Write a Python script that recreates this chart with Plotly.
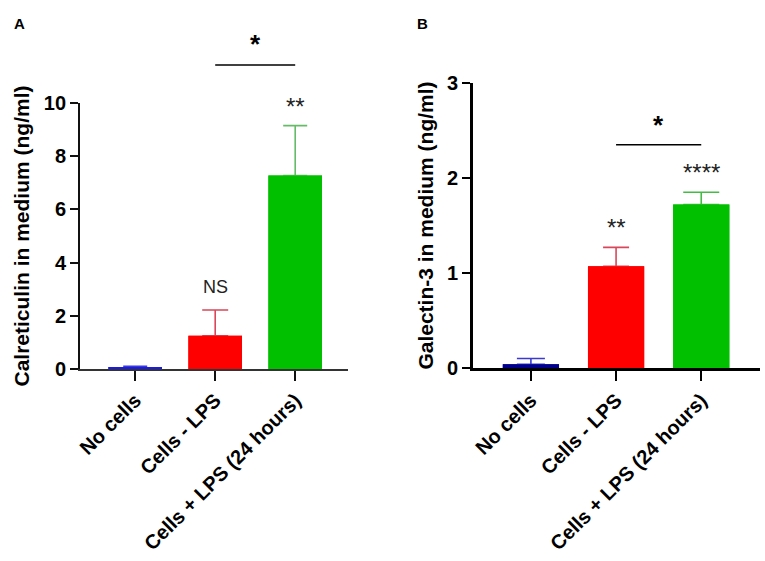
import plotly.graph_objects as go

# values
groups = ["No cells", "Cells - LPS", "Cells + LPS (24 hours)"]
calret_mean = [0.05, 1.25, 7.27]
calret_err = [0.05, 0.97, 1.88]
galec_mean = [0.04, 1.07, 1.72]
galec_err = [0.06, 0.20, 0.13]

calret_stars = ["", "NS", "**"]
calret_star_y = [0, 3.1, 9.85]
galec_stars = ["", "**", "****"]
galec_star_y = [0, 1.48, 2.06]

# bracket between group 1 and 2: (y of line, y of star)
calret_bracket = (11.43, 12.2)
galec_bracket = (2.35, 2.56)

bar_cols_a = ["#1a1aee", "#ff0000", "#00c000"]
err_cols_a = ["#3a3ad8", "#d9475a", "#66bb66"]
bar_cols_b = ["#00008c", "#ff0000", "#00c000"]
err_cols_b = ["#3a3ad0", "#d9475a", "#44bb44"]

FONT = "Liberation Sans, Arial, sans-serif"
W, H = 765, 561

fig = go.Figure()


def add_bars(xa, ya, means, errs, cols, ecols, caps, width):
    # bars carrying the (upper) error bars
    for i in range(len(groups)):
        fig.add_trace(go.Bar(
            x=[groups[i]], y=[means[i]], xaxis=xa, yaxis=ya,
            marker=dict(color=cols[i], line=dict(width=0)),
            width=width,
            error_y=dict(type="data", array=[errs[i]], arrayminus=[0],
                         symmetric=False, color=ecols[i], thickness=1.6,
                         width=caps[i]),
            showlegend=False, hoverinfo="skip",
        ))
    # same bars again on top, hiding the lower cap
    for i in range(len(groups)):
        fig.add_trace(go.Bar(
            x=[groups[i]], y=[means[i]], xaxis=xa, yaxis=ya,
            marker=dict(color=cols[i], line=dict(width=0)),
            width=width, showlegend=False,
        ))


add_bars("x", "y", calret_mean, calret_err, bar_cols_a, err_cols_a, [12, 13, 12], 0.67)
add_bars("x2", "y2", galec_mean, galec_err, bar_cols_b, err_cols_b, [14, 13, 18], 0.66)

xcommon = dict(type="category", showgrid=False, zeroline=False, ticks="outside",
               ticklen=10, tickangle=-45, showline=True, automargin=False,
               tickfont=dict(family=FONT, size=20, color="black", weight="bold"))
ycommon = dict(showgrid=False, zeroline=False, ticks="outside", ticklen=8,
               showline=True, automargin=False,
               tickfont=dict(family=FONT, size=20, color="black", weight="bold"))

fig.update_layout(
    width=W, height=H,
    margin=dict(l=0, r=0, t=0, b=0, autoexpand=False),
    plot_bgcolor="white", paper_bgcolor="white",
    barmode="overlay",
    xaxis=dict(xcommon, domain=[80 / W, 348 / W], range=[-0.69, 2.66],
               linecolor="#333333", linewidth=1.6, tickcolor="#111111", tickwidth=2),
    yaxis=dict(ycommon, domain=[(H - 369) / H, (H - 103) / H], range=[0, 10],
               dtick=2, linecolor="#111111", linewidth=1.8, tickcolor="#111111",
               tickwidth=2,
               title=dict(text="Calreticulin in medium (ng/ml)", standoff=8,
                          font=dict(family=FONT, size=21, color="black", weight="bold"))),
    xaxis2=dict(xcommon, domain=[473 / W, 760 / W], range=[-0.68, 2.69],
                linecolor="black", linewidth=2.6, tickcolor="black", tickwidth=2,
                anchor="y2"),
    yaxis2=dict(ycommon, domain=[(H - 368) / H, (H - 83) / H], range=[0, 3],
                dtick=1, linecolor="black", linewidth=2.6, tickcolor="black",
                tickwidth=2, anchor="x2",
                title=dict(text="Galectin-3 in medium (ng/ml)", standoff=8,
                           font=dict(family=FONT, size=21, color="black", weight="bold"))),
)

# significance labels above bars
for xa, ya, ymax, stars, sy in [("x", "y", 10, calret_stars, calret_star_y),
                                ("x2", "y2", 3, galec_stars, galec_star_y)]:
    for g, s, yv in zip(groups, stars, sy):
        if not s:
            continue
        fig.add_annotation(x=g, y=yv / ymax, xref=xa, yref=ya + " domain", text=s,
                           showarrow=False, yanchor="middle",
                           font=dict(family=FONT, size=18 if s == "NS" else 24,
                                     color="#222222"))

# brackets between the two cell groups
for xa, ya, ymax, (ly, sy) in [("x", "y", 10, calret_bracket),
                               ("x2", "y2", 3, galec_bracket)]:
    fig.add_shape(type="line", xref=xa, yref=ya + " domain",
                  x0=groups[1], x1=groups[2], y0=ly / ymax, y1=ly / ymax,
                  line=dict(color="black", width=1.5))
    fig.add_annotation(x=1.5, y=sy / ymax, xref=xa, yref=ya + " domain", text="*",
                       showarrow=False, yanchor="middle",
                       font=dict(family=FONT, size=26, color="black", weight="bold"))

# panel letters
fig.add_annotation(x=12 / W, y=1 - 23 / H, xref="paper", yref="paper", text="A",
                   showarrow=False, xanchor="left", yanchor="middle",
                   font=dict(family=FONT, size=15, color="black", weight="bold"))
fig.add_annotation(x=415 / W, y=1 - 23 / H, xref="paper", yref="paper", text="B",
                   showarrow=False, xanchor="left", yanchor="middle",
                   font=dict(family=FONT, size=15, color="black", weight="bold"))

# drop the browser's default 8px body margin so the figure sits at 0,0
fig.write_html("out.html", config={"displayModeBar": False},
               post_script="document.body.style.margin = '0';")
